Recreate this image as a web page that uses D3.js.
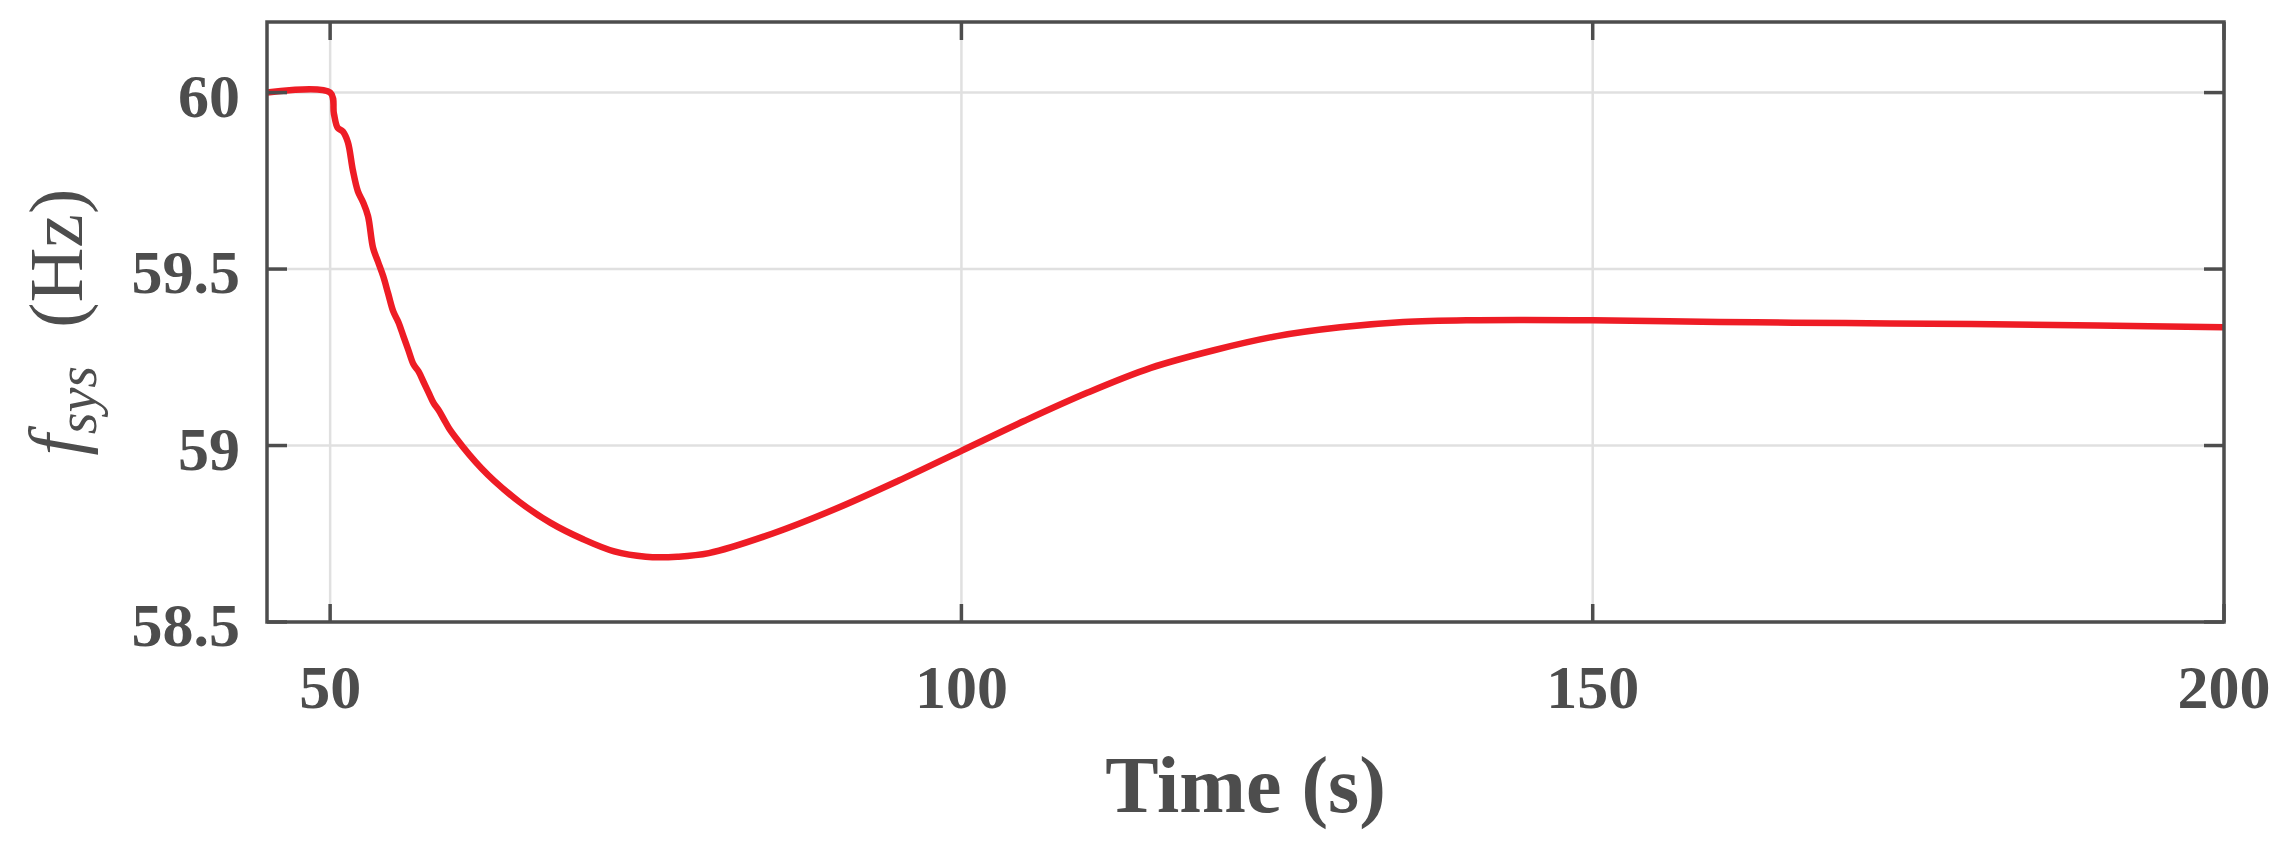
<!DOCTYPE html><html><head><meta charset="utf-8"><script src="https://cdn.jsdelivr.net/npm/d3@7"></script>
<style>body{margin:0;background:#fff}</style></head><body><svg id="c" width="2291" height="841"></svg>
<script>
const time=[45,50,50.3,50.6,51,51.4,51.8,52.2,52.6,53,53.4,53.8,54.2,54.6,55,55.4,55.8,56.2,56.6,57,57.4,57.8,58.2,58.6,59,59.4,60,61,62,63,65,67.5,70,72.5,75,77.5,80,85,90,95,100,105,110,115,120,125,130,135,140,150,160,170,180,190,200];
const freq=[60,60,59.94,59.9,59.89,59.86,59.78,59.72,59.69,59.65,59.56,59.52,59.48,59.43,59.38,59.35,59.31,59.27,59.23,59.21,59.18,59.15,59.12,59.10,59.075,59.05,59.02,58.975,58.935,58.90,58.84,58.78,58.735,58.7,58.685,58.685,58.695,58.75,58.82,58.90,58.985,59.07,59.15,59.22,59.27,59.31,59.335,59.35,59.355,59.355,59.35,59.347,59.344,59.34,59.335];
const xTicks=[50,100,150,200], yTicks=[58.5,59,59.5,60];
const svg=d3.select("#c"),L=267,R=2224,T=22,B=622,col="#4d4d4d";
const x=d3.scaleLinear().domain([45,200]).range([L,R]);
const y=d3.scaleLinear().domain([58.5,60.2]).range([B,T]);
const font="'Liberation Serif','Times New Roman',serif";
svg.append("g").selectAll("line").data(xTicks).join("line").attr("x1",d=>x(d)).attr("x2",d=>x(d)).attr("y1",T).attr("y2",B).attr("stroke","#e0e0e0").attr("stroke-width",2.5);
svg.append("g").selectAll("line").data(yTicks).join("line").attr("y1",d=>y(d)).attr("y2",d=>y(d)).attr("x1",L).attr("x2",R).attr("stroke","#e0e0e0").attr("stroke-width",2.5);
svg.append("path").datum(time.map((t,i)=>[t,freq[i]])).attr("fill","none").attr("stroke","#ee1c25").attr("stroke-width",6.5)
 .attr("d",d3.line().x(d=>x(d[0])).y(d=>y(d[1])).curve(d3.curveCatmullRom));
svg.append("rect").attr("x",L).attr("y",T).attr("width",R-L).attr("height",B-T).attr("fill","none").attr("stroke",col).attr("stroke-width",3.5);
const tk=18;
xTicks.forEach(d=>{svg.append("line").attr("x1",x(d)).attr("x2",x(d)).attr("y1",B).attr("y2",B-tk).attr("stroke",col).attr("stroke-width",3.5);
 svg.append("line").attr("x1",x(d)).attr("x2",x(d)).attr("y1",T).attr("y2",T+tk).attr("stroke",col).attr("stroke-width",3.5);});
yTicks.forEach(d=>{svg.append("line").attr("x1",L).attr("x2",L+20).attr("y1",y(d)).attr("y2",y(d)).attr("stroke",col).attr("stroke-width",3.5);
 svg.append("line").attr("x1",R).attr("x2",R-20).attr("y1",y(d)).attr("y2",y(d)).attr("stroke",col).attr("stroke-width",3.5);});
svg.append("g").selectAll("text").data(xTicks).join("text").attr("x",d=>x(d)).attr("y",708).attr("text-anchor","middle")
 .attr("font-family",font).attr("font-weight","bold").attr("font-size",62).attr("fill",col).text(d=>d);
svg.append("g").selectAll("text").data(yTicks).join("text").attr("x",240).attr("y",d=>y(d)+24).attr("text-anchor","end")
 .attr("font-family",font).attr("font-weight","bold").attr("font-size",62).attr("fill",col).text(d=>d);
svg.append("text").attr("x",(L+R)/2).attr("y",812).attr("text-anchor","middle").attr("font-family",font).attr("font-weight","bold").attr("font-size",80).attr("fill",col).text("Time (s)");
const yl=svg.append("text").attr("transform","translate(82,322) rotate(-90)").attr("text-anchor","middle").attr("font-family",font).attr("font-size",76).attr("fill",col);
yl.append("tspan").attr("font-style","italic").text("f");
yl.append("tspan").attr("font-style","italic").attr("font-size",56).attr("dy",14).text("sys");
yl.append("tspan").attr("dy",-14).text("\u2002(Hz)");
</script></body></html>
